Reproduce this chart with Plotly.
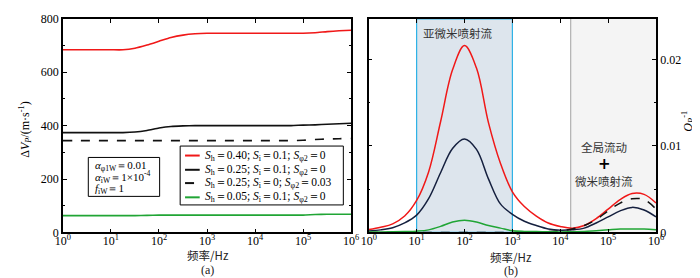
import plotly.graph_objects as go

# ---------------- data ----------------
freq_exp = [0.0, 0.25, 0.5, 0.75, 1.0, 1.25, 1.5, 1.75, 2.0, 2.25, 2.5, 2.75, 3.0,
            3.25, 3.5, 3.75, 4.0, 4.25, 4.5, 4.75, 5.0, 5.25, 5.5, 5.75, 6.0]
freq = [10 ** e for e in freq_exp]

# (a) velocity dispersion  dVp (m/s)
dv_red = [684, 684, 684, 684, 684, 684, 690, 702, 716, 730, 739, 744, 746,
          746, 746, 746, 746, 746, 746, 746, 746, 748, 752, 755, 757]
dv_black = [374, 374, 374, 374, 374, 374, 376, 382, 391, 397, 399, 400, 400,
            400, 400, 400, 400, 400, 400, 400, 402, 403, 405, 407, 409]
dv_dash = [344, 344, 344, 344, 344, 344, 344, 344, 344, 344, 344, 344, 344,
           344, 344, 344, 344, 344, 344, 344, 345, 348, 350, 351, 352]
dv_green = [63, 63, 63, 63, 63, 63, 63, 64, 65, 65, 65, 65, 65,
            65, 65, 65, 65, 65, 65, 65, 65, 67, 68, 68, 68]

# (b) attenuation Qp^-1
q_red = [0.00033, 0.0006, 0.0010, 0.0019, 0.0037, 0.0070, 0.0128, 0.0188, 0.0216,
         0.0190, 0.0127, 0.0080, 0.0047, 0.0030, 0.0019, 0.0011, 0.0007, 0.0005,
         0.0008, 0.0016, 0.0027, 0.0038, 0.0045, 0.0044, 0.0034]
q_black = [0.00018, 0.0003, 0.00055, 0.0011, 0.0020, 0.0039, 0.0069, 0.0097, 0.0108,
           0.0096, 0.0062, 0.0033, 0.0021, 0.0013, 0.0008, 0.0004, 0.00025, 0.0003,
           0.0005, 0.0011, 0.0018, 0.0025, 0.0029, 0.0026, 0.0018]
q_dash = [0.0, 0.0, 0.0, 0.0, 0.0, 0.0, 0.0, 0.0, 0.0,
          0.0, 0.0, 0.0, 0.0, 0.00003, 0.00005, 0.0001, 0.0002, 0.0004,
          0.0008, 0.0015, 0.0025, 0.0034, 0.0039, 0.0038, 0.0027]
q_green = [0.00004, 0.00005, 0.00007, 0.0001, 0.00015, 0.0003, 0.0007, 0.0012, 0.0014,
           0.0012, 0.0008, 0.0005, 0.0002, 0.00012, 0.0001, 0.00008, 0.00006, 0.00008,
           0.0001, 0.0002, 0.0003, 0.0004, 0.0004, 0.0004, 0.0003]

tick_exp = [0, 1, 2, 3, 4, 5, 6]
tick_vals = [10 ** e for e in tick_exp]
tick_text = ["10<sup>%d</sup>" % e for e in tick_exp]

legend_labels = [
    "<i>S</i><sub>h</sub>＝0.40; <i>S</i><sub>i</sub>＝0.1; <i>S</i><sub>φ2</sub>＝0",
    "<i>S</i><sub>h</sub>＝0.25; <i>S</i><sub>i</sub>＝0.1; <i>S</i><sub>φ2</sub>＝0",
    "<i>S</i><sub>h</sub>＝0.25; <i>S</i><sub>i</sub>＝0; <i>S</i><sub>φ2</sub>＝0.03",
    "<i>S</i><sub>h</sub>＝0.05; <i>S</i><sub>i</sub>＝0.1; <i>S</i><sub>φ2</sub>＝0",
]
blue_band = [10, 1000]
gray_band = [16500, 1e6]

# ---------------- style ----------------
W, H = 700, 278
RED, BLACK, GREEN = "#f01818", "#111111", "#20a535"
NAVY = "#15203f"
FONT = "Liberation Serif"
CJK = "Noto Sans CJK SC"


def px(x):
    return x / W


def py(y):
    return 1 - y / H


fig = go.Figure()

styles = [(RED, "solid"), (BLACK, "solid"), (BLACK, "dash"), (GREEN, "solid")]
for ys, (c, d) in zip([dv_red, dv_black, dv_dash, dv_green], styles):
    fig.add_trace(go.Scatter(x=freq, y=ys, mode="lines", xaxis="x", yaxis="y",
                             line=dict(color=c, width=1.6, dash=d, shape="spline", smoothing=0.6),
                             showlegend=False, hoverinfo="skip"))

styles_b = [(RED, "solid"), (NAVY, "solid"), (BLACK, "dash"), (GREEN, "solid")]
for ys, (c, d) in zip([q_red, q_black, q_dash, q_green], styles_b):
    fig.add_trace(go.Scatter(x=freq, y=ys, mode="lines", xaxis="x2", yaxis="y2",
                             line=dict(color=c, width=1.5, dash=d, shape="spline", smoothing=1.0),
                             showlegend=False, hoverinfo="skip"))

axis_common = dict(showgrid=False, zeroline=False, showline=True, linecolor="black",
                   linewidth=1.5, mirror="allticks", ticks="inside", ticklen=4,
                   tickcolor="black", tickwidth=1, ticklabeloverflow="allow",
                   tickfont=dict(family=FONT, size=12, color="black"))

y0d, y1d = py(229), py(4)
fig.update_layout(
    width=W, height=H, margin=dict(l=0, r=0, t=0, b=0),
    paper_bgcolor="white", plot_bgcolor="white",
    font=dict(family=FONT),
    xaxis=dict(type="log", domain=[px(48), px(343)], range=[0, 6], anchor="y",
               tickvals=tick_vals, ticktext=tick_text, ticklabelstandoff=-4, **axis_common),
    yaxis=dict(domain=[y0d, y1d], range=[0, 800], anchor="x", tickvals=[0, 200, 400, 600, 800],
               minor=dict(tickvals=[100, 300, 500, 700], ticks="inside", ticklen=2,
                          tickcolor="black"),
               **axis_common),
    xaxis2=dict(type="log", domain=[px(361), px(655)], range=[0, 6], anchor="y2",
                tickvals=tick_vals, ticktext=tick_text, ticklabelstandoff=-4, **axis_common),
    yaxis2=dict(domain=[y0d, y1d], range=[0, 0.0247], anchor="x2", side="right",
                tickvals=[0, 0.01, 0.02], ticktext=["0", "0.01", "0.02"],
                minor=dict(tickvals=[0.005, 0.015], ticks="inside", ticklen=2,
                           tickcolor="black"),
                **axis_common),
)

shapes = []
# shaded bands in (b)
shapes.append(dict(type="rect", xref="x2", yref="y2 domain", x0=blue_band[0], x1=blue_band[1],
                   y0=0, y1=1, fillcolor="#dde5ed", line=dict(color="#2fb2e6", width=1.2),
                   layer="below"))
shapes.append(dict(type="rect", xref="x2", yref="y2 domain", x0=gray_band[0], x1=gray_band[1],
                   y0=0, y1=1, fillcolor="#f4f4f4", line=dict(width=0), layer="below"))
shapes.append(dict(type="line", xref="x2", yref="y2 domain", x0=gray_band[0], x1=gray_band[0],
                   y0=0, y1=1, line=dict(color="#b0b0b0", width=1.2), layer="below"))

# legend box in (a)
shapes.append(dict(type="rect", xref="paper", yref="paper", x0=px(168), x1=px(335),
                   y0=py(200), y1=py(138), fillcolor="white", line=dict(color="black", width=1)))
rows = [148, 163, 177, 192]
for r, (c, d) in zip(rows, styles):
    shapes.append(dict(type="line", xref="paper", yref="paper", x0=px(173), x1=px(188),
                       y0=py(r), y1=py(r), line=dict(color=c, width=2, dash="dash" if d == "dash" else "solid")))
# parameter box in (a)
shapes.append(dict(type="rect", xref="paper", yref="paper", x0=px(74), x1=px(147),
                   y0=py(191), y1=py(150), fillcolor="white", line=dict(color="black", width=1)))

annotations = []
for r, lab in zip(rows, legend_labels):
    annotations.append(dict(xref="paper", yref="paper", x=px(191), y=py(r), text=lab,
                            showarrow=False, xanchor="left", yanchor="middle",
                            font=dict(family=FONT, size=11.5, color="black")))
params = ["<i>α</i><sub>φ1W</sub>＝0.01", "<i>α</i><sub>iW</sub>＝1×10<sup>-4</sup>",
          "<i>f</i><sub>iW</sub>＝1"]
for yy, t in zip([159, 171, 183], params):
    annotations.append(dict(xref="paper", yref="paper", x=px(79), y=py(yy), text=t,
                            showarrow=False, xanchor="left", yanchor="middle",
                            font=dict(family=FONT, size=11, color="black")))

# axis titles
annotations.append(dict(xref="paper", yref="paper", x=px(10), y=py(120),
                        text="Δ<i>V</i><sub><i>P</i></sub>/(m·s<sup>-1</sup>)", textangle=-90,
                        showarrow=False, xanchor="center", yanchor="middle",
                        font=dict(family=FONT, size=12, color="black")))
annotations.append(dict(xref="paper", yref="paper", x=px(688), y=py(112),
                        text="<i>Q</i><sub><i>P</i></sub><sup>-1</sup>", textangle=-90,
                        showarrow=False, xanchor="center", yanchor="middle",
                        font=dict(family=FONT, size=12, color="black")))
for xc, yt, ylab, lab in [(196, 253, 268, "(a)"), (507, 255, 270, "(b)")]:
    annotations.append(dict(xref="paper", yref="paper", x=px(xc), y=py(yt), text="频率/Hz",
                            showarrow=False, xanchor="center", yanchor="middle",
                            font=dict(family=CJK, size=11.5, color="#222")))
    annotations.append(dict(xref="paper", yref="paper", x=px(xc), y=py(ylab), text=lab,
                            showarrow=False, xanchor="center", yanchor="middle",
                            font=dict(family=FONT, size=12, color="#222")))

# region labels in (b)
annotations.append(dict(xref="paper", yref="paper", x=px(452), y=py(19), text="亚微米喷射流",
                        showarrow=False, xanchor="center", yanchor="middle",
                        font=dict(family=CJK, size=11.5, color="#333")))
annotations.append(dict(xref="paper", yref="paper", x=px(602), y=py(139), text="全局流动",
                        showarrow=False, xanchor="center", yanchor="middle",
                        font=dict(family=CJK, size=11.5, color="#333")))
annotations.append(dict(xref="paper", yref="paper", x=px(602), y=py(156.5), text="<b>+</b>",
                        showarrow=False, xanchor="center", yanchor="middle",
                        font=dict(family="DejaVu Sans", size=15, color="black")))
annotations.append(dict(xref="paper", yref="paper", x=px(602), y=py(175), text="微米喷射流",
                        showarrow=False, xanchor="center", yanchor="middle",
                        font=dict(family=CJK, size=11.5, color="#333")))

fig.update_layout(shapes=shapes, annotations=annotations)
fig.write_html("out.html")
